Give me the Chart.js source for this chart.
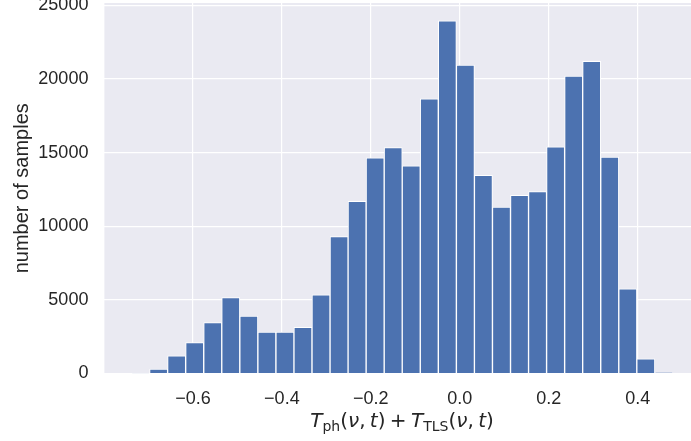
<!DOCTYPE html>
<html>
<head>
<meta charset="utf-8">
<script src="https://cdn.jsdelivr.net/npm/chart.js@4.4.1/dist/chart.umd.min.js"></script>
<style>
  html, body { margin: 0; padding: 0; background: #fff; }
  body { width: 691px; height: 441px; overflow: hidden; }
  #wrap { position: relative; width: 705px; height: 441px; }
  #xlabel {
    position: absolute; left: 402px; top: 409px; transform: translateX(-50%);
    font-family: "DejaVu Sans", sans-serif; font-size: 20px; color: #262626;
    white-space: nowrap; line-height: 23px; word-spacing: -2px;
  }
  #xlabel sub { font-size: 70%; vertical-align: -0.25em; line-height: 0; }
</style>
</head>
<body>
<div id="wrap">
  <canvas id="histChart" width="705" height="441"></canvas>
  <div id="xlabel"><i>T</i><sub>ph</sub>(<i>ν</i>, <i>t</i>) + <i>T</i><sub>TLS</sub>(<i>ν</i>, <i>t</i>)</div>
</div>
<script>
// bin centres and counts
const binCenters = [-0.7177, -0.6771, -0.6366, -0.5960, -0.5554, -0.5149, -0.4743, -0.4337, -0.3931, -0.3526,
                    -0.3120, -0.2714, -0.2309, -0.1903, -0.1497, -0.1092, -0.0686, -0.0280, 0.0126, 0.0531,
                    0.0937, 0.1343, 0.1748, 0.2154, 0.2560, 0.2965, 0.3371, 0.3777, 0.4182, 0.4588];
const counts = [30, 300, 1200, 2100, 3450, 5150, 3900, 2820, 2820, 3130,
                5350, 9300, 11700, 14650, 15350, 14100, 18650, 23950, 20950, 13450,
                11300, 12100, 12350, 15400, 20200, 21200, 14700, 5750, 1000, 50];
const xTicks = [-0.6, -0.4, -0.2, 0.0, 0.2, 0.4];
const yTicks = [0, 5000, 10000, 15000, 20000, 25000];

const textColor = '#262626';

// grey plot background like seaborn darkgrid
const plotBackground = {
    id: 'plotBackground',
    beforeDraw(chart) {
        const { ctx, chartArea } = chart;
        ctx.save();
        ctx.fillStyle = '#EAEAF2';
        ctx.fillRect(chartArea.left, chartArea.top, chartArea.right - chartArea.left, chartArea.bottom - chartArea.top);
        ctx.restore();
    }
};

new Chart(document.getElementById('histChart').getContext('2d'), {
    type: 'bar',
    data: {
        datasets: [{
            data: binCenters.map((x, i) => ({ x: x, y: counts[i] })),
            backgroundColor: '#4C72B0',
            borderColor: '#ffffff',
            borderWidth: 1,
            borderSkipped: 'bottom',
            barPercentage: 1,
            categoryPercentage: 1
        }]
    },
    options: {
        responsive: false,
        animation: false,
        devicePixelRatio: 1,
        layout: { padding: { top: 3, right: 5, bottom: 0, left: 0 } },
        plugins: {
            legend: { display: false },
            tooltip: { enabled: false }
        },
        scales: {
            x: {
                type: 'linear',
                offset: false,
                min: -0.799,
                max: 0.540,
                afterBuildTicks: scale => { scale.ticks = xTicks.map(v => ({ value: v })); },
                afterFit: scale => {
                    scale.height = 67.5;
                    scale.paddingLeft = 0;
                    scale.paddingRight = 0;
                },
                grid: { color: '#ffffff', lineWidth: 1.2, drawTicks: false, offset: false },
                border: { display: false },
                ticks: {
                    padding: 15,
                    color: textColor,
                    font: { family: 'Liberation Sans', size: 18 },
                    maxRotation: 0,
                    callback: v => (v < -1e-9 ? '\u2212' : '') + Math.abs(v).toFixed(1)
                }
            },
            y: {
                min: 0,
                max: 25160,
                afterBuildTicks: scale => { scale.ticks = yTicks.map(v => ({ value: v })); },
                afterFit: scale => {
                    scale.width = 104.4;
                    scale.paddingTop = 0;
                    scale.paddingBottom = 0;
                },
                grid: { color: '#ffffff', lineWidth: 1.2, drawTicks: false },
                border: { display: false },
                ticks: {
                    padding: 16,
                    color: textColor,
                    font: { family: 'Liberation Sans', size: 18 },
                    callback: v => String(v)
                },
                title: {
                    display: true,
                    text: 'number of samples',
                    color: textColor,
                    font: { family: 'Liberation Sans', size: 20 },
                    padding: { top: 10.5, bottom: 0 }
                }
            }
        }
    },
    plugins: [plotBackground]
});
</script>
</body>
</html>
